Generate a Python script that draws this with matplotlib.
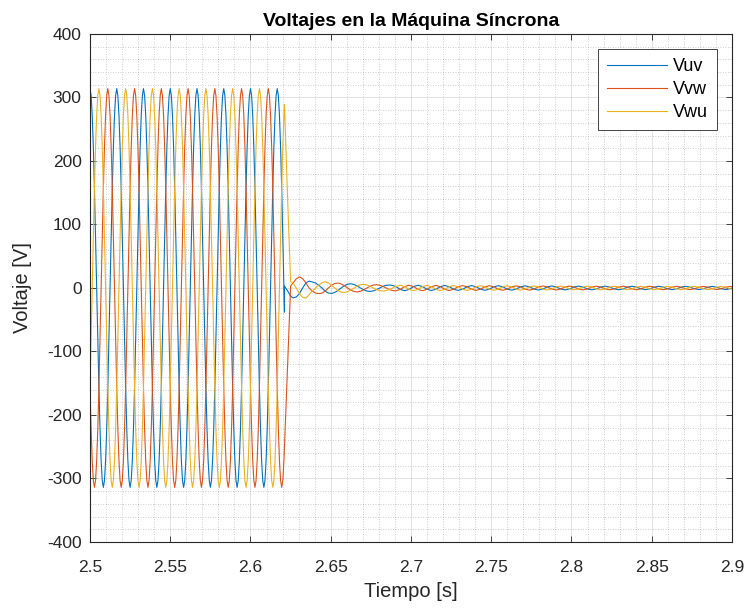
import numpy as np
import matplotlib
matplotlib.use("Agg")
from matplotlib import pyplot as plt
from matplotlib.ticker import MultipleLocator

# Line voltages.
# Steady part: one sample every 15 electrical degrees of the 60 Hz wave, from t = 2.5 s.
fs_steady = 1440
vuv_steady = [
    314, 303, 272, 222, 157, 81, 0, -81, -157, -222, -272, -303, -314, -303, -272, -222, -157, -81, 0, 81, 157, 222, 272, 303,
    314, 303, 272, 222, 157, 81, 0, -81, -157, -222, -272, -303, -314, -303, -272, -222, -157, -81, 0, 81, 157, 222, 272, 303,
    314, 303, 272, 222, 157, 81, 0, -81, -157, -222, -272, -303, -314, -303, -272, -222, -157, -81, 0, 81, 157, 222, 272, 303,
    314, 303, 272, 222, 157, 81, 0, -81, -157, -222, -272, -303, -314, -303, -272, -222, -157, -81, 0, 81, 157, 222, 272, 303,
    314, 303, 272, 222, 157, 81, 0, -81, -157, -222, -272, -303, -314, -303, -272, -222, -157, -81, 0, 81, 157, 222, 272, 303,
    314, 303, 272, 222, 157, 81, 0, -81, -157, -222, -272, -303, -314, -303, -272, -222, -157, -81, 0, 81, 157, 222, 272, 303,
    314, 303, 272, 222, 157, 81, 0, -81, -157, -222, -272, -303, -314, -303, -272, -222, -157, -81, 0, 81, 157, 222, 272, 303,
    314, 303, 272, 222, 157, 81, 0,
]
vvw_steady = [
    -157, -222, -272, -303, -314, -303, -272, -222, -157, -81, 0, 81, 157, 222, 272, 303, 314, 303, 272, 222, 157, 81, 0, -81,
    -157, -222, -272, -303, -314, -303, -272, -222, -157, -81, 0, 81, 157, 222, 272, 303, 314, 303, 272, 222, 157, 81, 0, -81,
    -157, -222, -272, -303, -314, -303, -272, -222, -157, -81, 0, 81, 157, 222, 272, 303, 314, 303, 272, 222, 157, 81, 0, -81,
    -157, -222, -272, -303, -314, -303, -272, -222, -157, -81, 0, 81, 157, 222, 272, 303, 314, 303, 272, 222, 157, 81, 0, -81,
    -157, -222, -272, -303, -314, -303, -272, -222, -157, -81, 0, 81, 157, 222, 272, 303, 314, 303, 272, 222, 157, 81, 0, -81,
    -157, -222, -272, -303, -314, -303, -272, -222, -157, -81, 0, 81, 157, 222, 272, 303, 314, 303, 272, 222, 157, 81, 0, -81,
    -157, -222, -272, -303, -314, -303, -272, -222, -157, -81, 0, 81, 157, 222, 272, 303, 314, 303, 272, 222, 157, 81, 0, -81,
    -157, -222, -272, -303, -314, -303, -272,
]
vwu_steady = [
    -157, -81, 0, 81, 157, 222, 272, 303, 314, 303, 272, 222, 157, 81, 0, -81, -157, -222, -272, -303, -314, -303, -272, -222,
    -157, -81, 0, 81, 157, 222, 272, 303, 314, 303, 272, 222, 157, 81, 0, -81, -157, -222, -272, -303, -314, -303, -272, -222,
    -157, -81, 0, 81, 157, 222, 272, 303, 314, 303, 272, 222, 157, 81, 0, -81, -157, -222, -272, -303, -314, -303, -272, -222,
    -157, -81, 0, 81, 157, 222, 272, 303, 314, 303, 272, 222, 157, 81, 0, -81, -157, -222, -272, -303, -314, -303, -272, -222,
    -157, -81, 0, 81, 157, 222, 272, 303, 314, 303, 272, 222, 157, 81, 0, -81, -157, -222, -272, -303, -314, -303, -272, -222,
    -157, -81, 0, 81, 157, 222, 272, 303, 314, 303, 272, 222, 157, 81, 0, -81, -157, -222, -272, -303, -314, -303, -272, -222,
    -157, -81, 0, 81, 157, 222, 272, 303, 314, 303, 272, 222, 157, 81, 0, -81, -157, -222, -272, -303, -314, -303, -272, -222,
    -157, -81, 0, 81, 157, 222, 272,
]

# Disconnection transient
t_break = [2.62116, 2.62116, 2.6235, 2.6250]
vuv_break = [-38, 3, -6, -13]
vvw_break = [-251, -251, -97, 3]
vwu_break = [289, 289, 114, 10]

# Damped ringing right after the break, one sample every 2 ms
t_early_start, t_early_step = 2.6265, 0.002
vuv_early = [-15.5, -14.3, -8.8, 0, 8, 10.8, 9.5, 8.0, 4.4, 0,
             -5, -8.0, -8.6, -7.1, -3.9, 0, 3.6, 6.0, 6.6, 5.5,
             3.1, 0, -2.9, -4.8, -5.4, -4.6, -2.6, 0, 2.5, 4.2,
             4.7, 4.0, 2.3]
vvw_early = [7.8, 14.3, 17.5, 14.7, 8, 0, -4.8, -8.0, -8.8, -8.2,
             -5, 0, 4.3, 7.1, 7.8, 6.5, 3.6, 0, -3.3, -5.5,
             -6.2, -5.2, -2.9, 0, 2.7, 4.6, 5.2, 4.3, 2.5, 0,
             -2.4, -4.0, -4.5]
vwu_early = [7.8, 0, -8.8, -14.7, -16, -10.8, -4.8, 0, 4.4, 8.2,
             10, 8.0, 4.3, 0, -3.9, -6.5, -7.2, -6.0, -3.3, 0,
             3.1, 5.2, 5.8, 4.8, 2.7, 0, -2.6, -4.3, -4.9, -4.2,
             -2.4, 0, 2.3]

# Small residual up to the end of the window, 60 degree steps at 60 Hz
t_late_start, fs_late = 2.6905, 360
vuv_late = [
    -2.2, -4.3, -2.2, 2.2, 4.3, 2.2,
    -2.0, -4.0, -2.0, 2.0, 4.0, 2.0,
    -1.9, -3.8, -1.9, 1.9, 3.8, 1.9,
    -1.8, -3.6, -1.8, 1.8, 3.6, 1.8,
    -1.7, -3.4, -1.7, 1.7, 3.4, 1.7,
    -1.6, -3.2, -1.6, 1.6, 3.2, 1.6,
    -1.5, -3.0, -1.5, 1.5, 3.0, 1.5,
    -1.4, -2.9, -1.4, 1.4, 2.9, 1.4,
    -1.4, -2.8, -1.4, 1.4, 2.8, 1.4,
    -1.3, -2.7, -1.3, 1.3, 2.7, 1.3,
    -1.3, -2.6, -1.3, 1.3, 2.6, 1.3,
    -1.2, -2.5, -1.2, 1.2, 2.5, 1.2,
    -1.2, -2.4, -1.2, 1.2,
]
vvw_late = [
    -2.2, 2.2, 4.3, 2.2, -2.2, -4.3,
    -2.0, 2.0, 4.0, 2.0, -2.0, -4.0,
    -1.9, 1.9, 3.8, 1.9, -1.9, -3.8,
    -1.8, 1.8, 3.6, 1.8, -1.8, -3.6,
    -1.7, 1.7, 3.4, 1.7, -1.7, -3.4,
    -1.6, 1.6, 3.2, 1.6, -1.6, -3.2,
    -1.5, 1.5, 3.0, 1.5, -1.5, -3.0,
    -1.4, 1.4, 2.9, 1.4, -1.4, -2.9,
    -1.4, 1.4, 2.8, 1.4, -1.4, -2.8,
    -1.3, 1.3, 2.7, 1.3, -1.3, -2.7,
    -1.3, 1.3, 2.6, 1.3, -1.3, -2.6,
    -1.2, 1.2, 2.5, 1.2, -1.2, -2.5,
    -1.2, 1.2, 2.4, 1.2,
]
vwu_late = [
    4.3, 2.2, -2.2, -4.3, -2.2, 2.2,
    4.0, 2.0, -2.0, -4.0, -2.0, 2.0,
    3.8, 1.9, -1.9, -3.8, -1.9, 1.9,
    3.6, 1.8, -1.8, -3.6, -1.8, 1.8,
    3.4, 1.7, -1.7, -3.4, -1.7, 1.7,
    3.2, 1.6, -1.6, -3.2, -1.6, 1.6,
    3.0, 1.5, -1.5, -3.0, -1.5, 1.5,
    2.9, 1.4, -1.4, -2.9, -1.4, 1.4,
    2.8, 1.4, -1.4, -2.8, -1.4, 1.4,
    2.7, 1.3, -1.3, -2.7, -1.3, 1.3,
    2.6, 1.3, -1.3, -2.6, -1.3, 1.3,
    2.5, 1.2, -1.2, -2.5, -1.2, 1.2,
    2.4, 1.2, -1.2, -2.4,
]

series_names = ["Vuv", "Vvw", "Vwu"]
series_colors = ["#0072BD", "#D95319", "#EDB120"]

x_ticks = [2.5, 2.55, 2.6, 2.65, 2.7, 2.75, 2.8, 2.85, 2.9]
x_tick_labels = ["2.5", "2.55", "2.6", "2.65", "2.7", "2.75", "2.8", "2.85", "2.9"]
y_ticks = [-400, -300, -200, -100, 0, 100, 200, 300, 400]
y_tick_labels = ["-400", "-300", "-200", "-100", "0", "100", "200", "300", "400"]

plt.rcParams["font.family"] = ["Liberation Sans", "DejaVu Sans"]
plt.rcParams["axes.unicode_minus"] = False

t = np.concatenate((
    2.5 + np.arange(len(vuv_steady)) / fs_steady,
    t_break,
    t_early_start + t_early_step * np.arange(len(vuv_early)),
    t_late_start + np.arange(1, len(vuv_late) + 1) / fs_late,
))
voltages = [
    np.concatenate((vuv_steady, vuv_break, vuv_early, vuv_late)),
    np.concatenate((vvw_steady, vvw_break, vvw_early, vvw_late)),
    np.concatenate((vwu_steady, vwu_break, vwu_early, vwu_late)),
]

fig = plt.figure(figsize=(7.48, 6.08), dpi=100)
ax = fig.add_axes([0.1203, 0.1086, 0.8583, 0.8355])

for v, name, color in zip(voltages, series_names, series_colors):
    ax.plot(t, v, color=color, linewidth=0.8, label=name)

ax.set_xlim(2.5, 2.9)
ax.set_ylim(-400, 400)
ax.set_xticks(x_ticks, x_tick_labels)
ax.set_yticks(y_ticks, y_tick_labels)
ax.xaxis.set_minor_locator(MultipleLocator(0.01))
ax.yaxis.set_minor_locator(MultipleLocator(20))

dark = "#262626"
ax.grid(which="major", color=dark, alpha=0.15, linewidth=0.6, linestyle="-")
ax.grid(which="minor", color=dark, alpha=0.3, linewidth=0.6, linestyle=(0, (1, 2)))
ax.set_axisbelow(True)
ax.tick_params(which="major", direction="in", top=True, right=True, length=4.6,
               width=0.6, color=dark, labelcolor=dark, labelsize=12.5)
ax.tick_params(axis="y", which="major", pad=6)
ax.tick_params(axis="x", which="major", pad=13)
ax.tick_params(which="minor", length=0)
for spine in ax.spines.values():
    spine.set_color(dark)
    spine.set_linewidth(0.8)

ax.set_xlabel("Tiempo [s]", fontsize=14.5, color=dark, labelpad=5)
ax.set_ylabel("Voltaje [V]", fontsize=14.5, color=dark, labelpad=11)
ax.set_title("Voltajes en la Máquina Síncrona", fontsize=14, fontweight="bold", pad=6)

leg = ax.legend(loc="upper right", bbox_to_anchor=(0.977, 0.97), borderaxespad=0,
                fontsize=13, handlelength=3.3, handletextpad=0.35, labelspacing=0.33,
                fancybox=False, framealpha=1, borderpad=0.5)
leg.get_frame().set_edgecolor(dark)
leg.get_frame().set_linewidth(0.6)

fig.savefig("out.png", dpi=100)
